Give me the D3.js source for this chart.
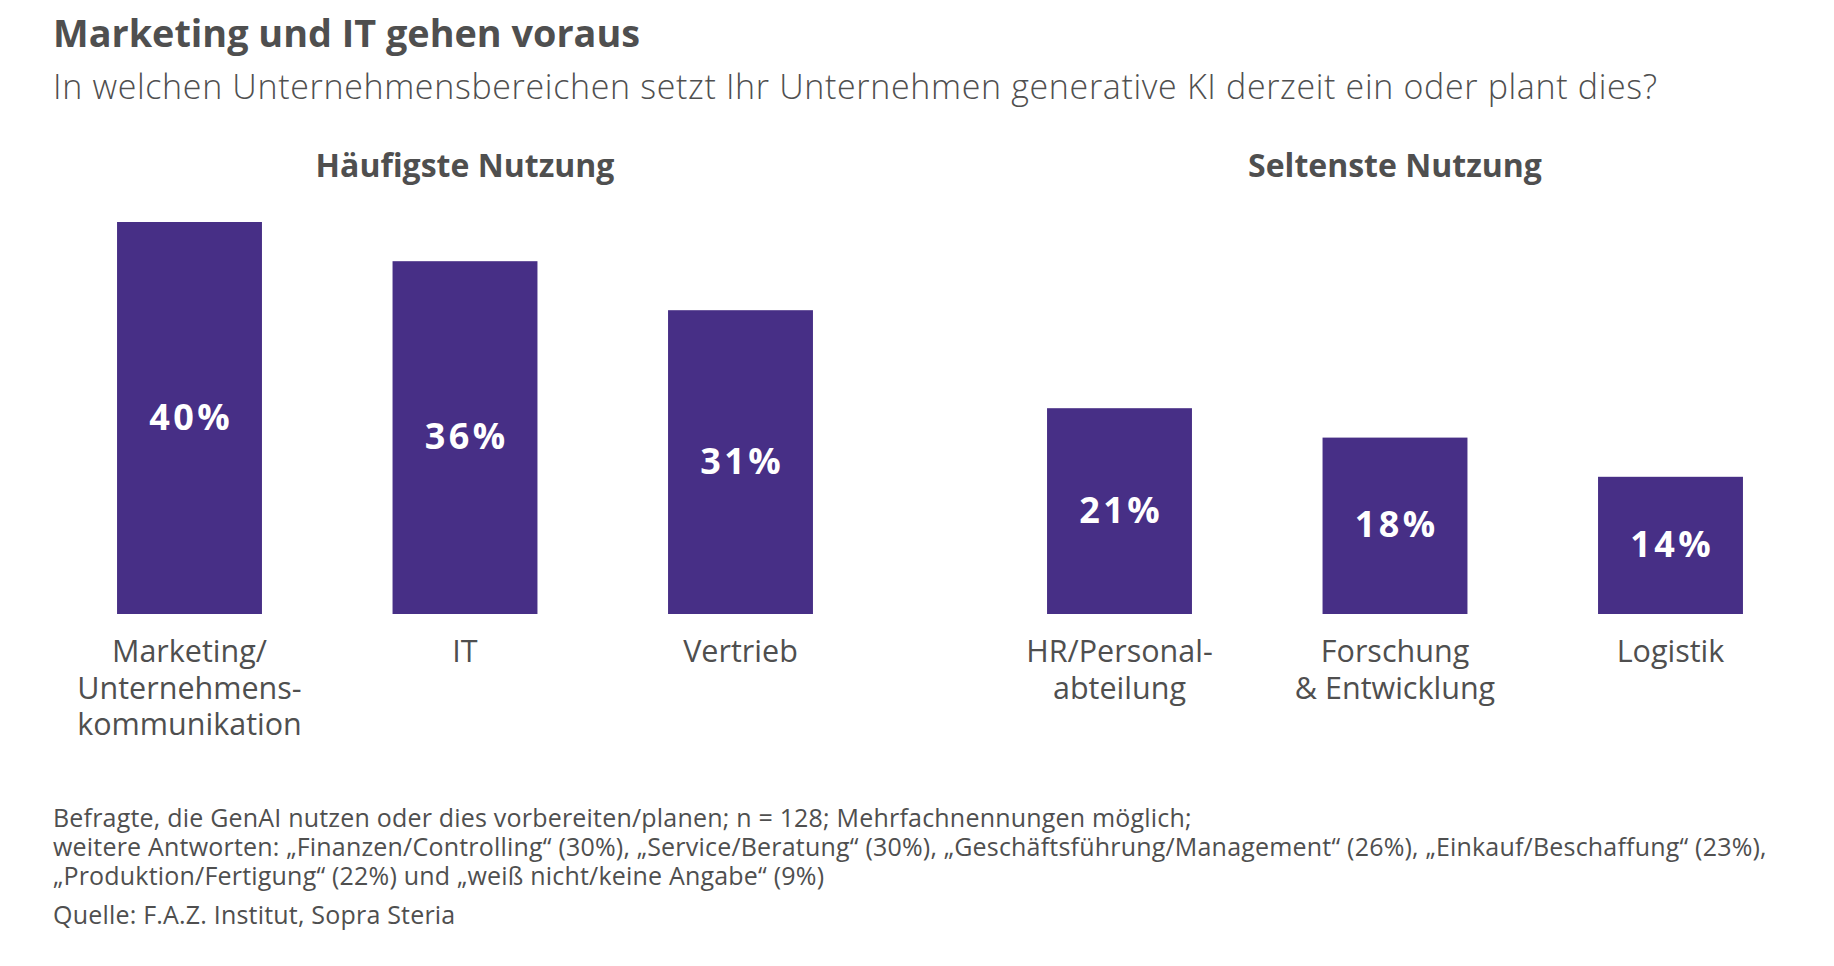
<!DOCTYPE html>
<html>
<head>
<meta charset="utf-8">
<script src="https://cdn.jsdelivr.net/npm/d3@7"></script>
<style>
  html, body { margin: 0; padding: 0; background: #ffffff; }
  svg { display: block; }
  text { font-family: "Open Sans", "Noto Sans", sans-serif; }
</style>
</head>
<body>
<svg id="chart" width="1834" height="966"></svg>
<script>
// ---- data ----
const title = "Marketing und IT gehen voraus";
const subtitle = "In welchen Unternehmensbereichen setzt Ihr Unternehmen generative KI derzeit ein oder plant dies?";
const groupTitles = ["Häufigste Nutzung", "Seltenste Nutzung"];
const groupCategories = [
  ["Marketing", "IT", "Vertrieb"],
  ["HR", "Forschung", "Logistik"]
];
const categoryLabels = {
  "Marketing": ["Marketing/", "Unternehmens-", "kommunikation"],
  "IT": ["IT"],
  "Vertrieb": ["Vertrieb"],
  "HR": ["HR/Personal-", "abteilung"],
  "Forschung": ["Forschung", "& Entwicklung"],
  "Logistik": ["Logistik"]
};
const values = {
  "Marketing": 40, "IT": 36, "Vertrieb": 31,
  "HR": 21, "Forschung": 18, "Logistik": 14
};
const footnotes = [
  "Befragte, die GenAI nutzen oder dies vorbereiten/planen; n = 128; Mehrfachnennungen möglich;",
  "weitere Antworten: „Finanzen/Controlling“ (30%), „Service/Beratung“ (30%), „Geschäftsführung/Management“ (26%), „Einkauf/Beschaffung“ (23%),",
  "„Produktion/Fertigung“ (22%) und „weiß nicht/keine Angabe“ (9%)"
];
const source = "Quelle: F.A.Z. Institut, Sopra Steria";

// ---- layout ----
const svg = d3.select("#chart");
const textColor = "#4f4f4f";
const barColor = "#472f86";
const baseY = 614, topY = 222;

const y = d3.scaleLinear().domain([0, 40]).range([baseY, topY]);
const groupRanges = [[51.75, 878.25], [981.75, 1808.25]];
const xScales = groupCategories.map((cats, i) =>
  d3.scaleBand().domain(cats).range(groupRanges[i]).paddingInner(0.474).paddingOuter(0.237));

// title & subtitle
svg.append("text").attr("x", 53).attr("y", 46.5)
  .attr("font-size", 37.8).attr("font-weight", 700).attr("fill", textColor)
  .text(title);
svg.append("text").attr("x", 53).attr("y", 99.3)
  .attr("font-size", 34).attr("font-weight", 300).attr("letter-spacing", 0.65).attr("fill", textColor)
  .text(subtitle);

const valLS = 3.5;
groupCategories.forEach((cats, gi) => {
  const x = xScales[gi];
  const g = svg.append("g");
  const mid = x(cats[1]) + x.bandwidth() / 2;
  g.append("text").attr("x", mid).attr("y", 177)
    .attr("text-anchor", "middle").attr("font-size", 32).attr("font-weight", 700)
    .attr("fill", textColor).text(groupTitles[gi]);

  g.selectAll("rect").data(cats).join("rect")
    .attr("x", d => x(d)).attr("width", x.bandwidth())
    .attr("y", d => y(values[d])).attr("height", d => y(0) - y(values[d]))
    .attr("fill", barColor);

  g.selectAll("text.val").data(cats).join("text").attr("class", "val")
    .attr("x", d => x(d) + x.bandwidth() / 2 + valLS / 2)
    .attr("y", d => (y(values[d]) + y(0)) / 2 + 11.5)
    .attr("text-anchor", "middle").attr("font-size", 36).attr("font-weight", 700)
    .attr("letter-spacing", valLS).attr("fill", "#ffffff")
    .text(d => values[d] + "%");

  const lab = g.selectAll("text.cat").data(cats).join("text").attr("class", "cat")
    .attr("text-anchor", "middle").attr("font-size", 30.5).attr("fill", textColor);
  lab.each(function(d) {
    const t = d3.select(this);
    categoryLabels[d].forEach((line, li) => {
      t.append("tspan").attr("x", x(d) + x.bandwidth() / 2)
        .attr("y", baseY + 47.7 + li * 36.8).text(line);
    });
  });
});

// footnotes
const foot = svg.append("g").attr("font-size", 25).attr("letter-spacing", 0.2).attr("fill", textColor);
footnotes.forEach((line, i) => {
  foot.append("text").attr("x", 53).attr("y", 827.3 + i * 28.6).text(line);
});
foot.append("text").attr("x", 53).attr("y", 924).text(source);
</script>
</body>
</html>
